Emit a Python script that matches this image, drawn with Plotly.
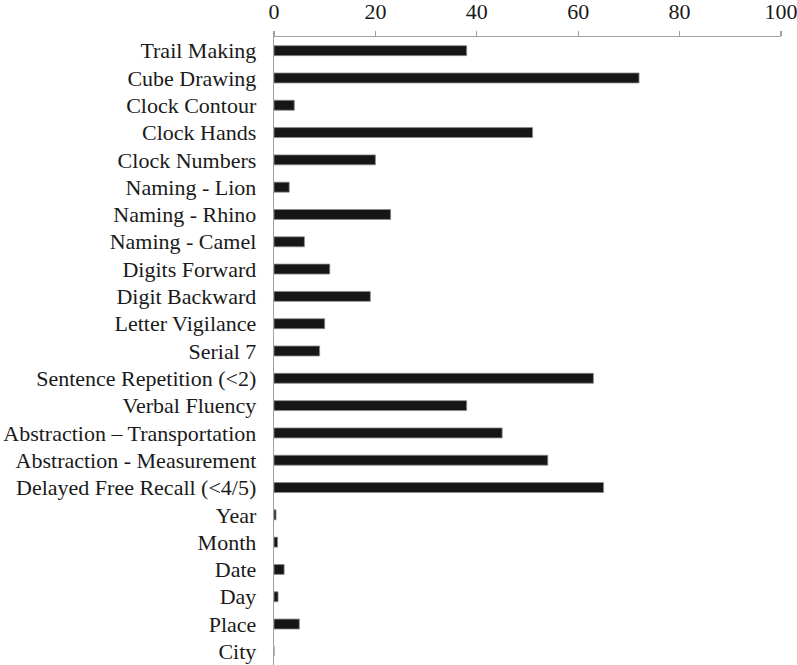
import plotly.graph_objects as go

categories = [
    "Trail Making", "Cube Drawing", "Clock Contour", "Clock Hands", "Clock Numbers",
    "Naming - Lion", "Naming - Rhino", "Naming - Camel", "Digits Forward",
    "Digit Backward", "Letter Vigilance", "Serial 7", "Sentence Repetition (<2)",
    "Verbal Fluency", "Abstraction \u2013 Transportation", "Abstraction - Measurement",
    "Delayed Free Recall (<4/5)", "Year", "Month", "Date", "Day", "Place", "City",
]
values = [38, 72, 4, 51, 20, 3, 23, 6, 11, 19, 10, 9, 63, 38, 45, 54, 65,
          0.4, 0.7, 2, 0.8, 5, 0]
x_ticks = [0, 20, 40, 60, 80, 100]

fig = go.Figure(go.Bar(
    x=values, y=categories, orientation="h",
    marker=dict(color="#161616", line=dict(color="#8a8a8a", width=0.8)),
    hoverinfo="skip",
))

font = dict(family="Liberation Serif, Times New Roman, serif", size=22, color="#1a1a1a")
fig.update_layout(
    width=797, height=665,
    margin=dict(l=274, r=16, t=37, b=0),
    paper_bgcolor="white", plot_bgcolor="white",
    font=font, bargap=0.635, showlegend=False,
    xaxis=dict(side="top", range=[0, 100], tickvals=x_ticks, showgrid=False,
               zeroline=False, showline=True, linecolor="#a0a0a0", linewidth=1.3,
               ticks="outside", ticklen=5, tickcolor="#a0a0a0", tickwidth=1.3,
               ticklabelstandoff=3,
               tickfont=font, fixedrange=True, automargin=False,
               ticklabeloverflow="allow"),
    yaxis=dict(autorange="reversed", showgrid=False, zeroline=False, showline=True,
               linecolor="#a0a0a0", linewidth=1.3, ticks="", ticklabelstandoff=12,
               tickfont=font, fixedrange=True, automargin=False),
)
fig.write_html(
    "out.html",
    config={"displayModeBar": False, "staticPlot": True},
    post_script="document.body.style.margin='0';document.body.style.overflow='hidden';",
)
